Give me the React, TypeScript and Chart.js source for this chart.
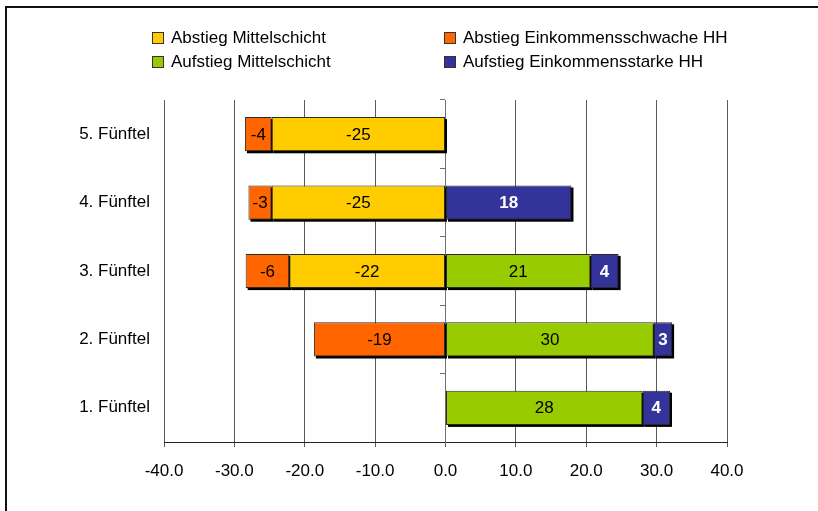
import React, { useEffect, useRef } from 'react';
import { Chart, registerables } from 'chart.js';

Chart.register(...registerables);

const categories = ['5. Fünftel', '4. Fünftel', '3. Fünftel', '2. Fünftel', '1. Fünftel'];
const seriesNames = [
  'Abstieg Mittelschicht',
  'Abstieg Einkommensschwache HH',
  'Aufstieg Mittelschicht',
  'Aufstieg Einkommensstarke HH',
];
const abstiegMittelschicht = [-24.7, -24.7, -22.2, null, null];
const abstiegSchwache = [-3.8, -3.3, -6.2, -18.7, null];
const aufstiegMittelschicht = [null, null, 20.6, 29.6, 28.0];
const aufstiegStarke = [null, 17.9, 4.0, 2.6, 3.9];
const xMin = -40;
const xMax = 40;
const xStep = 10;

const seriesColors = ['#FFCC00', '#FF6600', '#99CC00', '#333399'];
const labelColors = ['#000000', '#000000', '#000000', '#FFFFFF'];
const labelWeights = ['normal', 'normal', 'normal', 'bold'];
const FONT = "'Liberation Sans', Arial, sans-serif";

const legendLayout = [
  { series: 0, left: 152, top: 38 },
  { series: 1, left: 444, top: 38 },
  { series: 2, left: 152, top: 62 },
  { series: 3, left: 444, top: 62 },
];

const shadowPlugin = {
  id: 'barShadow',
  beforeDatasetsDraw(chart: any) {
    const ctx = chart.ctx;
    ctx.save();
    ctx.fillStyle = '#000000';
    chart.data.datasets.forEach((ds: any, i: number) => {
      const meta = chart.getDatasetMeta(i);
      meta.data.forEach((el: any, j: number) => {
        const v = ds.data[j];
        if (v === null || v === undefined) return;
        const { x, y, base, height } = el.getProps(['x', 'y', 'base', 'height'], true);
        const l = Math.min(x, base);
        const r = Math.max(x, base);
        ctx.fillRect(l + 2, y - height / 2 + 2, r - l, height);
      });
    });
    ctx.restore();
  },
};

const labelPlugin = {
  id: 'barLabels',
  afterDatasetsDraw(chart: any) {
    const ctx = chart.ctx;
    ctx.save();
    ctx.textAlign = 'center';
    ctx.textBaseline = 'middle';
    chart.data.datasets.forEach((ds: any, i: number) => {
      const meta = chart.getDatasetMeta(i);
      meta.data.forEach((el: any, j: number) => {
        const v = ds.data[j];
        if (v === null || v === undefined) return;
        const { x, y, base } = el.getProps(['x', 'y', 'base'], true);
        ctx.fillStyle = labelColors[i];
        ctx.font = `${labelWeights[i]} 17px ${FONT}`;
        ctx.fillText(String(Math.round(v)), (x + base) / 2, y + 1);
      });
    });
    ctx.restore();
  },
};

export default function App() {
  const ref = useRef<HTMLCanvasElement>(null);

  useEffect(() => {
    if (!ref.current) return;
    const seriesData = [abstiegMittelschicht, abstiegSchwache, aufstiegMittelschicht, aufstiegStarke];
    const chart = new Chart(ref.current, {
      type: 'bar',
      data: {
        labels: categories,
        datasets: seriesData.map((d, i) => ({
          label: seriesNames[i],
          data: d,
          backgroundColor: seriesColors[i],
          borderColor: '#2a2a2a',
          borderWidth: 1,
          borderSkipped: false,
          categoryPercentage: 1,
          barPercentage: 0.5,
        })),
      },
      options: {
        indexAxis: 'y',
        animation: false,
        responsive: false,
        maintainAspectRatio: false,
        events: [],
        layout: { padding: { top: 100, right: 91, bottom: 0, left: 0 } },
        plugins: {
          legend: { display: false },
          tooltip: { enabled: false },
        },
        scales: {
          x: {
            type: 'linear',
            stacked: true,
            min: xMin,
            max: xMax,
            grid: { color: '#5a5a5a', lineWidth: 1, tickLength: 5, drawTicks: true },
            border: { color: '#222222', width: 1 },
            ticks: {
              stepSize: xStep,
              color: '#000000',
              font: { family: FONT, size: 17 },
              padding: 14,
              callback: (v: any) => Number(v).toFixed(1),
            },
            afterFit: (s: any) => {
              s.height = 69;
            },
          },
          y: {
            type: 'category',
            stacked: true,
            position: 'left',
            grid: { display: false, drawTicks: false },
            border: { display: false },
            ticks: { color: '#000000', font: { family: FONT, size: 17 }, padding: 14 },
            afterFit: (s: any) => {
              s.width = 164;
            },
          },
          y2: {
            type: 'category',
            axis: 'y',
            labels: categories,
            offset: true,
            position: { x: 0 } as any,
            grid: { offset: true, drawOnChartArea: false, drawTicks: true, tickLength: 5, color: '#707070' },
            border: { color: '#707070', width: 1 },
            ticks: { display: false },
          },
        },
      },
      plugins: [shadowPlugin, labelPlugin],
    } as any);
    return () => chart.destroy();
  }, []);

  return (
    <div style={{ position: 'absolute', left: 0, top: 0, width: 818, height: 511, overflow: 'hidden', background: '#fff' }}>
      <canvas ref={ref} width={818} height={511} style={{ position: 'absolute', left: 0, top: 0 }} />
      <div
        style={{
          position: 'absolute',
          left: 5,
          top: 6,
          width: 813,
          height: 505,
          borderLeft: '2px solid #111',
          borderTop: '2px solid #111',
          boxSizing: 'border-box',
          pointerEvents: 'none',
        }}
      />
      {legendLayout.map((item) => (
        <div
          key={item.series}
          style={{
            position: 'absolute',
            left: item.left,
            top: item.top - 11,
            height: 22,
            display: 'flex',
            alignItems: 'center',
            fontFamily: FONT,
            fontSize: 17,
            color: '#000',
            whiteSpace: 'nowrap',
          }}
        >
          <span
            style={{
              display: 'inline-block',
              width: 10,
              height: 10,
              background: seriesColors[item.series],
              border: '1px solid #333',
              marginRight: 7,
            }}
          />
          <span>{seriesNames[item.series]}</span>
        </div>
      ))}
    </div>
  );
}
